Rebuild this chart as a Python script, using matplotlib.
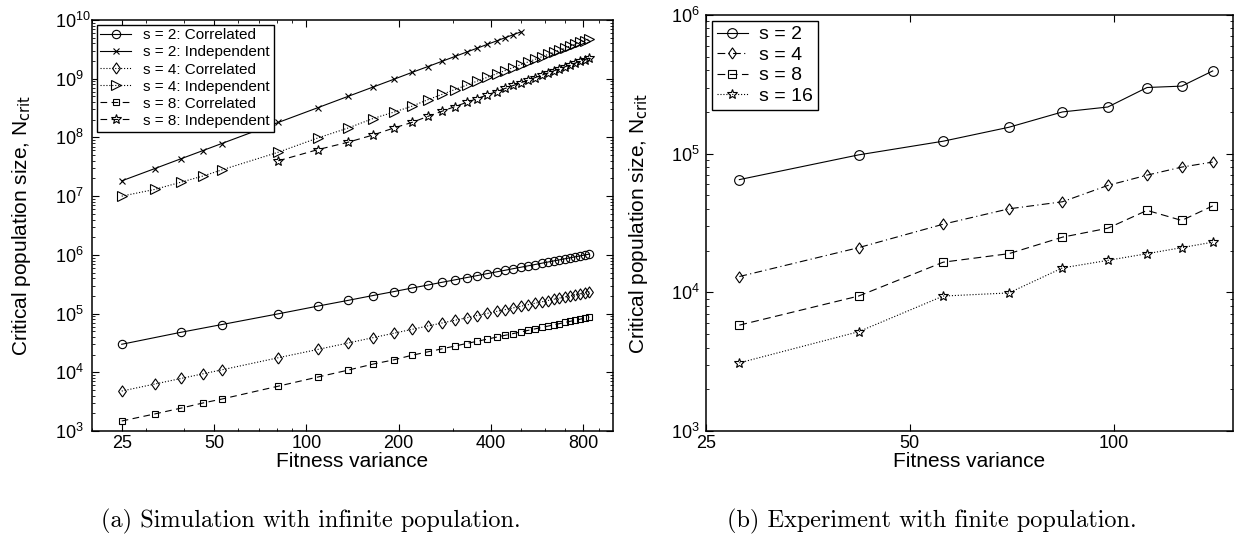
import matplotlib
matplotlib.use("Agg")
import matplotlib.pyplot as plt
from matplotlib.ticker import LogLocator, NullFormatter, NullLocator, LogFormatterSciNotation

plt.rcParams['font.family'] = ['Liberation Sans', 'DejaVu Sans']
plt.rcParams['mathtext.default'] = 'regular'

# (a) simulation, infinite population
x_sim = [25, 32, 39, 46, 53, 81, 109, 137, 165, 193, 221, 249, 277, 305, 333, 361, 389,
         417, 445, 473, 501, 529, 557, 585, 613, 641, 669, 697, 725, 753, 781, 809, 837]
x_s2_corr = [25, 39, 53, 81, 109, 137, 165, 193, 221, 249, 277, 305, 333, 361, 389,
             417, 445, 473, 501, 529, 557, 585, 613, 641, 669, 697, 725, 753, 781, 809, 837]
x_s2_ind = x_sim[:21]
x_s8_ind = x_sim[5:]

s2_corr = [3.0e4, 4.8e4, 6.5e4, 9.9e4, 1.34e5, 1.68e5, 2.03e5, 2.37e5, 2.72e5, 3.06e5,
           3.41e5, 3.75e5, 4.10e5, 4.44e5, 4.79e5, 5.13e5, 5.47e5, 5.82e5, 6.16e5, 6.51e5,
           6.85e5, 7.20e5, 7.54e5, 7.89e5, 8.23e5, 8.58e5, 8.92e5, 9.27e5, 9.61e5, 9.96e5, 1.03e6]
s2_ind = [1.82e7, 2.94e7, 4.33e7, 5.97e7, 7.88e7, 1.80e8, 3.21e8, 5.02e8, 7.21e8, 9.79e8,
          1.28e9, 1.61e9, 1.98e9, 2.39e9, 2.84e9, 3.32e9, 3.84e9, 4.40e9, 4.99e9, 5.62e9, 6.29e9]
s4_corr = [4.79e3, 6.30e3, 7.84e3, 9.42e3, 1.10e4, 1.77e4, 2.45e4, 3.16e4, 3.89e4, 4.63e4,
           5.38e4, 6.14e4, 6.91e4, 7.69e4, 8.48e4, 9.27e4, 1.007e5, 1.088e5, 1.169e5, 1.251e5,
           1.334e5, 1.417e5, 1.501e5, 1.585e5, 1.669e5, 1.753e5, 1.838e5, 1.924e5, 2.01e5,
           2.097e5, 2.183e5, 2.27e5, 2.358e5]
s4_ind = [1.0e7, 1.3e7, 1.73e7, 2.2e7, 2.8e7, 5.6e7, 9.8e7, 1.45e8, 2.1e8, 2.7e8,
          3.4e8, 4.39e8, 5.41e8, 6.54e8, 7.77e8, 9.12e8, 1.056e9, 1.211e9, 1.376e9, 1.552e9,
          1.739e9, 1.934e9, 2.14e9, 2.358e9, 2.586e9, 2.824e9, 3.073e9, 3.332e9, 3.6e9,
          3.88e9, 4.17e9, 4.47e9, 4.78e9]
s8_corr = [1.48e3, 1.95e3, 2.45e3, 3.0e3, 3.5e3, 5.8e3, 8.3e3, 1.09e4, 1.38e4, 1.63e4,
           1.95e4, 2.23e4, 2.51e4, 2.80e4, 3.09e4, 3.38e4, 3.67e4, 3.97e4, 4.27e4, 4.57e4,
           4.88e4, 5.18e4, 5.49e4, 5.80e4, 6.11e4, 6.43e4, 6.74e4, 7.06e4, 7.38e4, 7.70e4,
           8.02e4, 8.34e4, 8.67e4]
s8_ind = [4.0e7, 6.2e7, 8.3e7, 1.1e8, 1.45e8, 1.8e8, 2.28e8, 2.79e8, 3.35e8, 3.95e8,
          4.60e8, 5.30e8, 6.04e8, 6.83e8, 7.67e8, 8.55e8, 9.47e8, 1.044e9, 1.146e9, 1.252e9,
          1.362e9, 1.477e9, 1.595e9, 1.718e9, 1.847e9, 1.978e9, 2.114e9, 2.254e9]
ticks_a = [25, 50, 100, 200, 400, 800]

# (b) experiment, finite population
x_exp = [28, 42, 56, 70, 84, 98, 112, 126, 140]
e_s2 = [6.5e4, 9.8e4, 1.23e5, 1.55e5, 2.0e5, 2.17e5, 3.0e5, 3.07e5, 3.95e5]
e_s4 = [1.3e4, 2.1e4, 3.1e4, 4.0e4, 4.5e4, 5.9e4, 7.0e4, 8.0e4, 8.7e4]
e_s8 = [5.8e3, 9.4e3, 1.65e4, 1.9e4, 2.5e4, 2.9e4, 3.9e4, 3.3e4, 4.2e4]
e_s16 = [3.1e3, 5.2e3, 9.4e3, 9.9e3, 1.5e4, 1.7e4, 1.9e4, 2.1e4, 2.3e4]
ticks_b = [25, 50, 100]

ylab = r'Critical population size, N$_{\mathrm{crit}}$'
diamond = [(0, -1), (0.7, 0), (0, 1), (-0.7, 0), (0, -1)]

fig = plt.figure(figsize=(12.35, 5.52), dpi=100)
ax1 = fig.add_axes([92/1235, 1 - 431/552, (613 - 92)/1235, (431 - 20)/552])
ax2 = fig.add_axes([706/1235, 1 - 431/552, (1233 - 706)/1235, (431 - 15)/552])

kw = dict(color='black', lw=0.8, mfc='none', mec='black', mew=0.8)
ax1.plot(x_s2_corr, s2_corr, '-', marker='o', ms=6, label='s = 2: Correlated', **kw)
ax1.plot(x_s2_ind, s2_ind, '-', marker='x', ms=5, label='s = 2: Independent', **kw)
ax1.plot(x_sim, s4_corr, ':', marker=diamond, ms=8, label='s = 4: Correlated', **kw)
ax1.plot(x_sim, s4_ind, ':', marker='>', ms=7, label='s = 4: Independent', **kw)
ax1.plot(x_sim, s8_corr, '--', marker='s', ms=5, dashes=(6, 4), label='s = 8: Correlated', **kw)
ax1.plot(x_s8_ind, s8_ind, '--', marker='*', ms=7, dashes=(6, 4), label='s = 8: Independent', **kw)

ax2.plot(x_exp, e_s2, '-', marker='o', ms=7, label='s = 2', **kw)
ax2.plot(x_exp, e_s4, '-.', marker=diamond, ms=8, dashes=(7, 3, 1, 3), label='s = 4', **kw)
ax2.plot(x_exp, e_s8, '--', marker='s', ms=6, dashes=(7, 4), label='s = 8', **kw)
ax2.plot(x_exp, e_s16, ':', marker='*', ms=7, label='s = 16', **kw)

for ax in (ax1, ax2):
    ax.set_xscale('log')
    ax.set_yscale('log')
    ax.yaxis.set_major_locator(LogLocator(base=10, numticks=20))
    ax.yaxis.set_minor_locator(LogLocator(base=10, subs=range(2, 10), numticks=20))
    ax.yaxis.set_major_formatter(LogFormatterSciNotation())
    ax.yaxis.set_minor_formatter(NullFormatter())
    ax.tick_params(which='both', direction='in', top=True, right=True, labelsize=13)
    ax.tick_params(axis='x', pad=3)
    ax.tick_params(which='major', length=5, width=0.8)
    ax.tick_params(which='minor', length=2.5, width=0.6)
    for sp in ax.spines.values():
        sp.set_linewidth(1.1)
    ax.set_xlabel('Fitness variance', fontsize=15, labelpad=0)

leg1 = ax1.legend(loc='upper left', fancybox=False, edgecolor='black', framealpha=1,
                  fontsize=11, handlelength=2.0, labelspacing=0.2, borderaxespad=0.3,
                  borderpad=0.25, handletextpad=0.8)
leg1.get_frame().set_linewidth(1.0)
leg2 = ax2.legend(loc='upper left', fancybox=False, edgecolor='black', framealpha=1,
                  fontsize=14, handlelength=1.6, labelspacing=0.15, borderaxespad=0.3,
                  borderpad=0.25, handletextpad=0.6)
leg2.get_frame().set_linewidth(1.0)

ax1.set_xlim(20, 1000)
ax1.set_ylim(1e3, 1e10)
ax1.set_xticks(ticks_a)
ax1.set_xticklabels([str(t) for t in ticks_a])
ax1.xaxis.set_minor_locator(LogLocator(base=10, subs=range(2, 10), numticks=20))
ax1.xaxis.set_minor_formatter(NullFormatter())
ax1.set_ylabel(ylab, fontsize=15)
ax1.yaxis.set_label_coords(-0.113, 0.5)

ax2.set_xlim(25, 150)
ax2.set_ylim(1e3, 1e6)
ax2.set_xticks(ticks_b)
ax2.set_xticklabels([str(t) for t in ticks_b])
ax2.xaxis.set_minor_locator(NullLocator())
ax2.set_ylabel(ylab, fontsize=15)
ax2.yaxis.set_label_coords(-0.106, 0.5)

# MATLAB style: the base "10" sits at a fixed place, exponent runs to the right
ax1.tick_params(axis='y', which='major', pad=26.5)
ax2.tick_params(axis='y', which='major', pad=25)
fig.canvas.draw()
for ax in (ax1, ax2):
    for lab in ax.get_yticklabels():
        lab.set_horizontalalignment('left')

fig.text(311/1235, 1 - 521/552, '(a) Simulation with infinite population.',
         family='cmr10', fontsize=17.5, ha='center', va='center')
fig.text(932/1235, 1 - 521/552, '(b) Experiment with finite population.',
         family='cmr10', fontsize=17.5, ha='center', va='center')

fig.savefig('out.png', dpi=100)
